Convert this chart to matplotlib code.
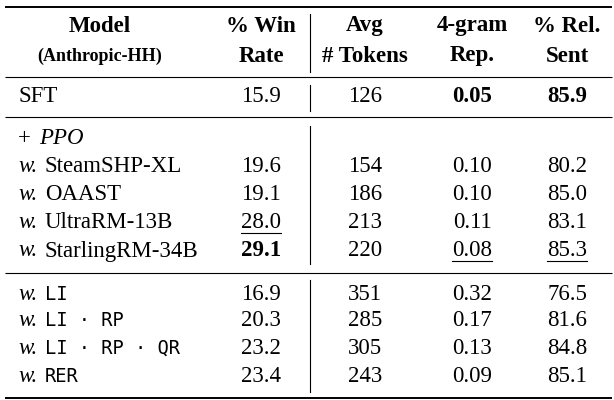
import matplotlib
matplotlib.use("Agg")
import matplotlib.pyplot as plt

models = ["SFT", "+ PPO", "SteamSHP-XL", "OAAST", "UltraRM-13B", "StarlingRM-34B",
          "LI", "LI · RP", "LI · RP · QR", "RER"]
win = ["15.9", "", "19.6", "19.1", "28.0", "29.1", "16.9", "20.3", "23.2", "23.4"]
toks = ["126", "", "154", "186", "213", "220", "351", "285", "305", "243"]
rep = ["0.05", "", "0.10", "0.10", "0.11", "0.08", "0.32", "0.17", "0.13", "0.09"]
rel = ["85.9", "", "80.2", "85.0", "83.1", "85.3", "76.5", "81.6", "84.8", "85.1"]
bold = {(0, 3), (0, 4), (5, 1)}
under = {(4, 1), (5, 3), (5, 4)}

W, H = 614, 400
fig = plt.figure(figsize=(6.14, 4.0), dpi=100)
ax = fig.add_axes([0, 0, 1, 1])
ax.set_xlim(0, W); ax.set_ylim(H, 0); ax.axis("off")

SER = "Liberation Serif"; MONO = "DejaVu Sans Mono"
FS = 16.5
xs = {1: 281, 2: 365, 3: 472, 4: 567}
xleft, xv = 18, 310

def hl(y, lw):
    ax.plot([5, 612], [y, y], color="black", lw=lw, solid_capstyle="butt")

hl(7, 1.4); hl(77, 0.8); hl(117, 0.8); hl(273, 0.8); hl(398, 1.4)
for y0, y1 in [(14, 72), (85, 111), (126, 264), (280, 392)]:
    ax.plot([xv, xv], [y0, y1], color="black", lw=0.8)

# header
ax.text(100, 26, "Model", fontsize=FS, fontweight="bold", family=SER, ha="center", va="center")
ax.text(100, 56, "(Anthropic-HH)", fontsize=FS - 3.5, fontweight="bold", family=SER, ha="center", va="center")
ax.text(296, 26, "% Win", fontsize=FS, fontweight="bold", family=SER, ha="right", va="center")
ax.text(284, 56, "Rate", fontsize=FS, fontweight="bold", family=SER, ha="right", va="center")
for c, (a, b) in zip([2, 3, 4], [("Avg", "# Tokens"), ("4-gram", "Rep."), ("% Rel.", "Sent")]):
    ax.text(xs[c], 26, a, fontsize=FS, fontweight="bold", family=SER, ha="center", va="center")
    ax.text(xs[c], 56, b, fontsize=FS, fontweight="bold", family=SER, ha="center", va="center")

ys = [97, 139, 167, 195, 223, 251, 294, 321, 348, 376]
for i, (m, y) in enumerate(zip(models, ys)):
    if i == 0:
        ax.text(xleft, y, m, fontsize=FS, family=SER, va="center")
    elif i == 1:
        ax.text(xleft, y, "+ ", fontsize=FS, family=SER, va="center")
        ax.text(xleft + 21, y, "PPO", fontsize=FS, family=SER, style="italic", va="center")
    else:
        ax.text(xleft, y, "w.", fontsize=FS, family=SER, style="italic", va="center")
        if i >= 6:
            ax.text(xleft + 27, y, m, fontsize=FS - 3, family=MONO, va="center")
        else:
            ax.text(xleft + 27, y, m, fontsize=FS, family=SER, va="center")
    for c, arr in zip([1, 2, 3, 4], [win, toks, rep, rel]):
        v = arr[i]
        if not v:
            continue
        ha = "right" if c == 1 else "center"
        ax.text(xs[c], y, v, fontsize=FS, family=SER, ha=ha, va="center",
                fontweight="bold" if (i, c) in bold else "normal")
        if (i, c) in under:
            w = 40
            x0 = xs[c] - w if c == 1 else xs[c] - w / 2
            ax.plot([x0, x0 + w], [y + 10, y + 10], color="black", lw=0.8)

fig.savefig("out.png", dpi=100)
